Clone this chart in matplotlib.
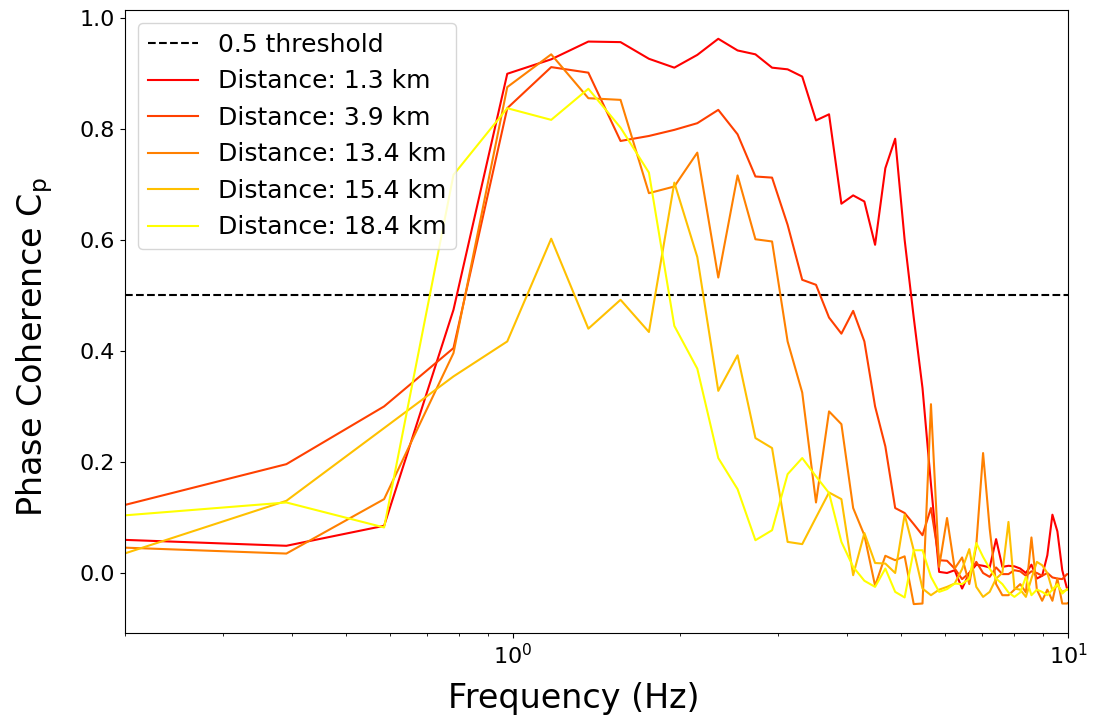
"""Phase coherence vs frequency for several station distances."""

import matplotlib
matplotlib.use("Agg")
import matplotlib.pyplot as plt
import numpy as np

# frequency bins (Hz)
freqs = [0.1953, 0.3906, 0.5859, 0.7813, 0.9766, 1.1719, 1.3672, 1.5625,
         1.7578, 1.9531, 2.1484, 2.3438, 2.5391, 2.7344, 2.9297, 3.1250,
         3.3203, 3.5156, 3.7109, 3.9063, 4.1016, 4.2969, 4.4922, 4.6875,
         4.8828, 5.0781, 5.2734, 5.4688, 5.6641, 5.8594, 6.0547, 6.2500,
         6.4453, 6.6406, 6.8359, 7.0313, 7.2266, 7.4219, 7.6172, 7.8125,
         8.0078, 8.2031, 8.3984, 8.5938, 8.7891, 8.9844, 9.1797, 9.3750,
         9.5703, 9.7656, 9.9609, 10.1563]

distances = [1.3, 3.9, 13.4, 15.4, 18.4]

cp_1_3 = [0.060, 0.049, 0.085, 0.474, 0.899, 0.925, 0.957, 0.956, 0.926, 0.910,
          0.933, 0.962, 0.941, 0.934, 0.910, 0.907, 0.894, 0.815, 0.826, 0.665,
          0.680, 0.669, 0.591, 0.729, 0.782, 0.600, 0.460, 0.333, 0.160, 0.002,
          0.000, 0.005, -0.028, 0.000, 0.015, 0.013, 0.010, 0.061, 0.011, 0.013,
          0.012, 0.008, 0.000, 0.015, -0.010, -0.005, 0.032, 0.105, 0.075, 0.005,
          -0.028, -0.030]
cp_3_9 = [0.120, 0.196, 0.300, 0.405, 0.837, 0.911, 0.901, 0.778, 0.787, 0.798,
          0.810, 0.834, 0.790, 0.714, 0.712, 0.627, 0.528, 0.519, 0.460, 0.431,
          0.472, 0.417, 0.300, 0.228, 0.117, 0.108, 0.088, 0.068, 0.117, 0.023,
          0.022, 0.008, -0.011, 0.000, 0.020, 0.000, -0.007, 0.010, -0.002, -0.002,
          0.005, 0.003, -0.005, 0.003, 0.000, -0.005, 0.000, -0.008, -0.010, -0.011,
          -0.002, -0.003]
cp_13_4 = [0.046, 0.035, 0.133, 0.396, 0.875, 0.934, 0.855, 0.852, 0.684, 0.696,
           0.757, 0.532, 0.716, 0.601, 0.597, 0.417, 0.325, 0.127, 0.291, 0.268,
           0.117, 0.068, -0.023, 0.031, 0.023, 0.030, -0.056, -0.055, 0.304, 0.011,
           0.099, 0.008, 0.028, -0.020, 0.050, 0.216, 0.080, -0.020, -0.040, -0.040,
           -0.030, -0.020, -0.035, 0.064, -0.030, -0.050, -0.030, -0.050, -0.010, -0.055,
           -0.055, -0.050]
cp_15_4 = [0.032, 0.130, 0.261, 0.354, 0.417, 0.602, 0.440, 0.492, 0.434, 0.703,
           0.569, 0.328, 0.392, 0.243, 0.225, 0.056, 0.052, 0.100, 0.145, 0.133,
           -0.004, 0.072, 0.018, 0.017, 0.000, 0.105, 0.041, -0.028, -0.040, -0.030,
           -0.025, -0.019, 0.007, 0.043, -0.025, -0.043, -0.034, -0.010, 0.000, 0.092,
           -0.028, -0.030, -0.043, -0.010, 0.020, 0.014, 0.000, -0.031, -0.022, -0.034,
           -0.030, -0.030]
cp_18_4 = [0.103, 0.127, 0.082, 0.717, 0.837, 0.816, 0.872, 0.802, 0.721, 0.445,
           0.368, 0.207, 0.151, 0.059, 0.077, 0.178, 0.207, 0.174, 0.144, 0.056,
           0.011, -0.014, -0.025, 0.008, -0.034, -0.044, 0.041, 0.041, -0.007, -0.034,
           -0.029, -0.019, -0.020, -0.010, 0.054, 0.029, 0.008, -0.010, -0.020, -0.035,
           -0.043, -0.035, -0.007, -0.040, -0.030, -0.034, -0.040, -0.030, -0.020, -0.037,
           -0.029, -0.030]

curves = [cp_1_3, cp_3_9, cp_13_4, cp_15_4, cp_18_4]
colors = plt.cm.autumn(np.linspace(0, 1, len(curves)))

fig, ax = plt.subplots(figsize=(10.93, 7.17), dpi=100)
fig.subplots_adjust(left=0.1144, right=0.9771, top=0.9854, bottom=0.1172)

ax.axhline(0.5, color='k', linestyle='--', linewidth=1.5, label='0.5 threshold')
for d, cp, c in zip(distances, curves, colors):
    ax.plot(freqs, cp, color=c, linewidth=1.5, label=f'Distance: {d} km')

ax.set_xscale('log')
ax.set_xlim(0.2, 10)
ax.set_ylim(-0.108, 1.013)
ax.set_xlabel('Frequency (Hz)', fontsize=24, labelpad=10.5)
ax.set_ylabel('Phase Coherence C$_\\mathrm{p}$', fontsize=24, labelpad=18)
ax.xaxis.label.set_x(0.476)
ax.yaxis.label.set_y(0.46)
ax.tick_params(labelsize=16)
ax.legend(loc='upper left', fontsize=18)

fig.savefig('out.png', dpi=100)
